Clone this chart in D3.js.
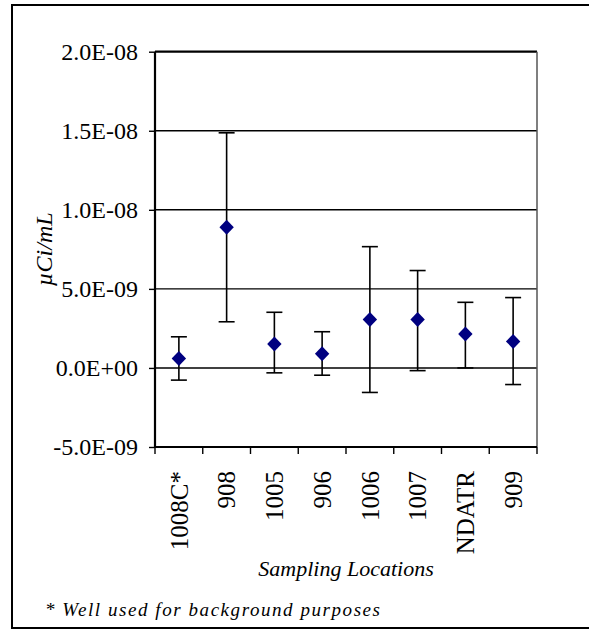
<!DOCTYPE html>
<html>
<head>
<meta charset="utf-8">
<script src="https://cdn.jsdelivr.net/npm/d3@7"></script>
<style>
    html, body { margin: 0; padding: 0; background: #fff; }
    svg { display: block; }
    svg text { font-family: 'Liberation Serif', 'Times New Roman', Times, serif; fill: #000; }
</style>
</head>
<body>
<svg id="chart"></svg>
<script>
const locations = ['1008C*', '908', '1005', '906', '1006', '1007', 'NDATR', '909'];
const means = [0.59e-9, 8.89e-9, 1.51e-9, 0.90e-9, 3.06e-9, 3.06e-9, 2.14e-9, 1.68e-9];
const upper = [1.97e-9, 14.87e-9, 3.52e-9, 2.29e-9, 7.67e-9, 6.16e-9, 4.15e-9, 4.45e-9];
const lower = [-0.77e-9, 2.92e-9, -0.31e-9, -0.46e-9, -1.55e-9, -0.17e-9, 0.0, -1.05e-9];
const yTicks = [-5e-9, 0, 5e-9, 1e-8, 1.5e-8, 2e-8];
const yTickLabels = ['-5.0E-09', '0.0E+00', '5.0E-09', '1.0E-08', '1.5E-08', '2.0E-08'];

const width = 589;
const height = 630;
const plot = { left: 155, right: 537, top: 51.7, bottom: 447 };

const svg = d3.select('#chart')
    .attr('width', width)
    .attr('height', height);

// outer frame (right side runs off the picture)
svg.append('rect')
    .attr('x', 12)
    .attr('y', 5)
    .attr('width', 600)
    .attr('height', 623)
    .attr('fill', 'none')
    .attr('stroke', '#000')
    .attr('stroke-width', 2);

const x = d3.scaleBand()
    .domain(locations)
    .range([plot.left, plot.right])
    .padding(0);

const y = d3.scaleLinear()
    .domain([-5e-9, 2e-8])
    .range([plot.bottom, plot.top]);

// gridlines
svg.append('g')
    .selectAll('line')
    .data(yTicks)
    .enter()
    .append('line')
    .attr('x1', plot.left)
    .attr('x2', plot.right)
    .attr('y1', d => y(d))
    .attr('y2', d => y(d))
    .attr('stroke', '#000')
    .attr('stroke-width', d => d === 2e-8 ? 2.2 : 1.4);

// right border of plot
svg.append('line')
    .attr('x1', plot.right)
    .attr('x2', plot.right)
    .attr('y1', plot.top)
    .attr('y2', plot.bottom)
    .attr('stroke', '#555')
    .attr('stroke-width', 1.5);

// y axis
const yAxis = svg.append('g')
    .attr('transform', `translate(${plot.left},0)`)
    .call(d3.axisLeft(y)
        .tickValues(yTicks)
        .tickSize(6)
        .tickPadding(11)
        .tickFormat((d, i) => yTickLabels[i]));
yAxis.attr('font-family', null);
yAxis.select('.domain').attr('stroke-width', 2.2).attr('d', `M0,${plot.top}V${plot.bottom}`);
yAxis.selectAll('line').attr('stroke-width', 1.4);
yAxis.selectAll('text')
    .style('font-size', '24px')
    .attr('dy', '0.33em');

// x axis with ticks at band edges
const xAxis = svg.append('g')
    .attr('transform', `translate(0,${plot.bottom})`);
xAxis.append('line')
    .attr('x1', plot.left)
    .attr('x2', plot.right)
    .attr('stroke', '#000')
    .attr('stroke-width', 2.2);
xAxis.selectAll('.tick')
    .data(locations.concat(['end']))
    .enter()
    .append('line')
    .attr('class', 'tick')
    .attr('x1', d => d === 'end' ? plot.right : x(d))
    .attr('x2', d => d === 'end' ? plot.right : x(d))
    .attr('y1', 0)
    .attr('y2', 7)
    .attr('stroke', '#000')
    .attr('stroke-width', 1.4);
xAxis.selectAll('.label')
    .data(locations)
    .enter()
    .append('text')
    .attr('class', 'label')
    .attr('transform', d => `translate(${x(d) + x.bandwidth() / 2},24) rotate(-90)`)
    .attr('text-anchor', 'end')
    .attr('dy', '0.35em')
    .style('font-size', '25px')
    .text(d => d);

// error bars
const bars = svg.append('g')
    .selectAll('g')
    .data(locations)
    .enter()
    .append('g')
    .attr('transform', d => `translate(${x(d) + x.bandwidth() / 2},0)`);

bars.append('line')
    .attr('y1', (d, i) => y(upper[i]))
    .attr('y2', (d, i) => y(lower[i]))
    .attr('stroke', '#000')
    .attr('stroke-width', 1.6);

bars.append('line')
    .attr('x1', -8)
    .attr('x2', 8)
    .attr('y1', (d, i) => y(upper[i]))
    .attr('y2', (d, i) => y(upper[i]))
    .attr('stroke', '#000')
    .attr('stroke-width', 1.6);

bars.append('line')
    .attr('x1', -8)
    .attr('x2', 8)
    .attr('y1', (d, i) => y(lower[i]))
    .attr('y2', (d, i) => y(lower[i]))
    .attr('stroke', '#000')
    .attr('stroke-width', 1.6);

// diamond markers
bars.append('path')
    .attr('d', (d, i) => {
        const cy = y(means[i]);
        return `M0,${cy - 7.5}L7.2,${cy}L0,${cy + 7.5}L-7.2,${cy}Z`;
    })
    .attr('fill', '#000080');

// axis titles
svg.append('text')
    .attr('transform', `translate(52,${(plot.top + plot.bottom) / 2}) rotate(-90)`)
    .attr('text-anchor', 'middle')
    .style('font-size', '24px')
    .style('font-style', 'italic')
    .text('µCi/mL');

svg.append('text')
    .attr('x', (plot.left + plot.right) / 2)
    .attr('y', 576)
    .attr('text-anchor', 'middle')
    .style('font-size', '22px')
    .style('font-style', 'italic')
    .text('Sampling Locations');

svg.append('text')
    .attr('x', 45)
    .attr('y', 616)
    .attr('textLength', 335)
    .attr('lengthAdjust', 'spacing')
    .style('font-size', '19px')
    .style('font-style', 'italic')
    .text('* Well used for background purposes');
</script>
</body>
</html>
